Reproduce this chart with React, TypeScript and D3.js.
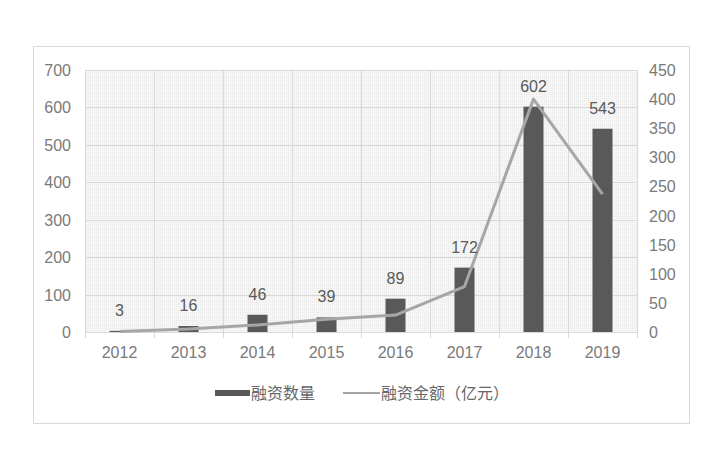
import React, { useEffect, useRef } from 'react';
import * as d3 from 'd3';

const years = ['2012', '2013', '2014', '2015', '2016', '2017', '2018', '2019'];
const dealCounts = [3, 16, 46, 39, 89, 172, 602, 543];
const dealAmounts = [1, 5, 12, 22, 29, 78, 400, 237];
const leftTicks = [0, 100, 200, 300, 400, 500, 600, 700];
const rightTicks = [0, 50, 100, 150, 200, 250, 300, 350, 400, 450];

const FONT = '"Liberation Sans", "Noto Sans CJK SC", sans-serif';
const AXIS_TEXT = '#7a7a7a';
const LABEL_TEXT = '#595959';

const Chart = () => {
  const ref = useRef<SVGSVGElement>(null);

  useEffect(() => {
    if (!ref.current) return;
    const svg = d3.select(ref.current);
    svg.selectAll('*').remove();

    const plot = { left: 85, right: 637, top: 70, bottom: 332 };

    const x = d3
      .scaleBand<string>()
      .domain(years)
      .range([plot.left, plot.right])
      .paddingInner(0.71)
      .paddingOuter(0.355);
    const cat = d3.scaleBand<string>().domain(years).range([plot.left, plot.right]);
    const yLeft = d3.scaleLinear().domain([0, 700]).range([plot.bottom, plot.top]);
    const yRight = d3.scaleLinear().domain([0, 450]).range([plot.bottom, plot.top]);

    // outer frame
    svg
      .append('rect')
      .attr('x', 33.5)
      .attr('y', 46.5)
      .attr('width', 656)
      .attr('height', 377)
      .attr('fill', '#fff')
      .attr('stroke', '#d9d9d9');

    // dotted background
    const defs = svg.append('defs');
    const pat = defs
      .append('pattern')
      .attr('id', 'dots')
      .attr('width', 2)
      .attr('height', 2)
      .attr('patternUnits', 'userSpaceOnUse');
    pat.append('rect').attr('width', 2).attr('height', 2).attr('fill', '#f7f7f7');
    pat.append('rect').attr('width', 1).attr('height', 1).attr('fill', '#e8e8e8');

    svg
      .append('rect')
      .attr('x', plot.left)
      .attr('y', plot.top)
      .attr('width', plot.right - plot.left)
      .attr('height', plot.bottom - plot.top)
      .attr('fill', 'url(#dots)');

    const grid = svg.append('g').attr('stroke', '#d9d9d9').attr('stroke-width', 1);
    grid
      .selectAll('line.h')
      .data(leftTicks)
      .join('line')
      .attr('x1', plot.left)
      .attr('x2', plot.right)
      .attr('y1', (d) => Math.round(yLeft(d)) + 0.5)
      .attr('y2', (d) => Math.round(yLeft(d)) + 0.5);
    const bounds = years.map((y) => cat(y) as number).concat([plot.right]);
    grid
      .selectAll('line.v')
      .data(bounds)
      .join('line')
      .attr('x1', (d) => Math.round(d) + 0.5)
      .attr('x2', (d) => Math.round(d) + 0.5)
      .attr('y1', plot.top)
      .attr('y2', plot.bottom + 6);

    // bars
    svg
      .append('g')
      .selectAll('rect')
      .data(dealCounts)
      .join('rect')
      .attr('x', (_, i) => x(years[i]) as number)
      .attr('width', x.bandwidth())
      .attr('y', (d) => yLeft(d))
      .attr('height', (d) => plot.bottom - yLeft(d))
      .attr('fill', '#595959');

    // line
    const line = d3
      .line<number>()
      .x((_, i) => (cat(years[i]) as number) + cat.bandwidth() / 2)
      .y((d) => yRight(d));
    svg
      .append('path')
      .datum(dealAmounts)
      .attr('d', line)
      .attr('fill', 'none')
      .attr('stroke', '#a6a6a6')
      .attr('stroke-width', 3)
      .attr('stroke-linejoin', 'round');

    // bar labels
    svg
      .append('g')
      .attr('font-family', FONT)
      .selectAll('text')
      .data(dealCounts)
      .join('text')
      .attr('x', (_, i) => (cat(years[i]) as number) + cat.bandwidth() / 2)
      .attr('y', (d) => yLeft(d) - 15)
      .attr('text-anchor', 'middle')
      .attr('font-size', 16)
      .attr('fill', LABEL_TEXT)
      .text((d) => d);

    // axes labels
    const ax = svg.append('g').attr('font-family', FONT).attr('font-size', 16).attr('fill', AXIS_TEXT);
    ax.selectAll('text.l')
      .data(leftTicks)
      .join('text')
      .attr('x', 71)
      .attr('y', (d) => yLeft(d) + 6)
      .attr('text-anchor', 'end')
      .text((d) => d);
    ax.selectAll('text.r')
      .data(rightTicks)
      .join('text')
      .attr('x', 649)
      .attr('y', (d) => yRight(d) + 6)
      .attr('text-anchor', 'start')
      .text((d) => d);
    ax.selectAll('text.x')
      .data(years)
      .join('text')
      .attr('x', (d) => (cat(d) as number) + cat.bandwidth() / 2)
      .attr('y', 358)
      .attr('text-anchor', 'middle')
      .text((d) => d);

    // legend
    const lg = svg.append('g').attr('font-family', FONT).attr('font-size', 16).attr('fill', '#666');
    lg.append('rect').attr('x', 215).attr('y', 390).attr('width', 35).attr('height', 6).attr('fill', '#595959');
    lg.append('text').attr('x', 251).attr('y', 399).text('融资数量');
    lg.append('line')
      .attr('x1', 343)
      .attr('x2', 380)
      .attr('y1', 393)
      .attr('y2', 393)
      .attr('stroke', '#a6a6a6')
      .attr('stroke-width', 2);
    lg.append('text').attr('x', 381).attr('y', 399).text('融资金额（亿元）');
  }, []);

  return <svg ref={ref} width={723} height={463} style={{ fontFamily: FONT, display: 'block' }} />;
};

export default function App() {
  return (
    <div style={{ margin: -8 }}>
      <Chart />
    </div>
  );
}
